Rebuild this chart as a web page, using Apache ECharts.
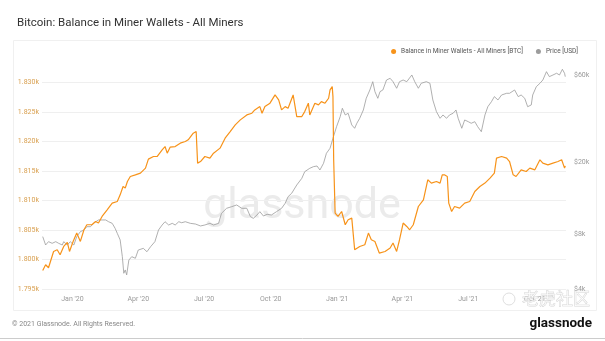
<!DOCTYPE html>
<html>
<head>
<meta charset="utf-8">
<script src="https://cdn.jsdelivr.net/npm/echarts@6/dist/echarts.min.js"></script>
<style>
  html, body { margin: 0; padding: 0; background: #fff; }
  #chart { width: 605px; height: 341px; }
</style>
</head>
<body>
<div id="chart"></div>
<script>
// Miner wallet balance (thousand BTC)
const balanceDates = [
  '2019-11-21','2019-11-25','2019-11-29','2019-12-06','2019-12-11','2019-12-15','2019-12-20','2019-12-25','2019-12-28',
  '2020-01-02','2020-01-07','2020-01-12','2020-01-17','2020-01-21','2020-01-28','2020-02-02','2020-02-06','2020-02-11',
  '2020-02-18','2020-02-25','2020-03-03','2020-03-07','2020-03-11','2020-03-14','2020-03-17','2020-03-21','2020-03-28',
  '2020-04-04','2020-04-11','2020-04-15','2020-04-22','2020-04-27','2020-05-04','2020-05-08','2020-05-11','2020-05-15',
  '2020-05-22','2020-05-29','2020-06-05','2020-06-09','2020-06-16','2020-06-20','2020-06-22','2020-06-26','2020-07-02',
  '2020-07-09','2020-07-14','2020-07-23','2020-07-30','2020-08-06','2020-08-13','2020-08-20','2020-08-29','2020-09-05',
  '2020-09-09','2020-09-16','2020-09-19','2020-09-23','2020-09-30','2020-10-07','2020-10-12','2020-10-16','2020-10-21',
  '2020-10-25','2020-11-01','2020-11-06','2020-11-13','2020-11-17','2020-11-22','2020-11-24','2020-12-01','2020-12-06',
  '2020-12-10','2020-12-15','2020-12-20','2020-12-22','2020-12-25','2020-12-26','2020-12-27','2020-12-29','2021-01-02',
  '2021-01-07','2021-01-12','2021-01-16','2021-01-21','2021-01-25','2021-02-01','2021-02-08','2021-02-13','2021-02-17',
  '2021-02-22','2021-02-28','2021-03-08','2021-03-15','2021-03-19','2021-03-24','2021-03-28','2021-04-02','2021-04-07',
  '2021-04-11','2021-04-16','2021-04-23','2021-04-30','2021-05-06','2021-05-11','2021-05-18','2021-05-23','2021-05-26',
  '2021-05-29','2021-06-02','2021-06-04','2021-06-08','2021-06-12','2021-06-19','2021-06-26','2021-07-03','2021-07-10',
  '2021-07-17','2021-07-24','2021-07-31','2021-08-06','2021-08-09','2021-08-16','2021-08-23','2021-08-27','2021-09-01',
  '2021-09-05','2021-09-12','2021-09-19','2021-09-24','2021-10-01','2021-10-08','2021-10-12','2021-10-19','2021-10-26',
  '2021-11-02','2021-11-07','2021-11-11','2021-11-12'
];
const balanceValues = [
  1798.15,1799.12,1798.61,1801.37,1801.66,1800.81,1802.22,1802.90,1801.37,
  1803.07,1804.49,1803.07,1805.05,1805.90,1805.90,1806.46,1806.19,1807.31,
  1808.44,1809.58,1809.85,1810.98,1812.39,1812.12,1813.24,1814.09,1814.37,
  1814.66,1815.51,1817.04,1817.48,1817.48,1818.61,1819.17,1818.05,1819.07,
  1819.17,1819.75,1820.02,1820.31,1821.44,1821.71,1816.36,1816.63,1817.48,
  1817.20,1818.05,1818.90,1820.59,1821.71,1822.85,1823.70,1824.54,1824.83,
  1825.39,1825.95,1824.83,1825.95,1826.53,1827.93,1827.09,1825.39,1825.95,
  1825.68,1827.93,1824.26,1824.26,1825.10,1826.53,1824.54,1826.53,1826.24,
  1826.80,1826.53,1827.37,1828.78,1829.34,1827.65,1816.92,1807.88,1807.31,
  1808.15,1805.90,1806.75,1807.03,1801.66,1802.22,1802.51,1804.49,1803.36,
  1803.07,1801.10,1801.37,1801.95,1802.80,1801.37,1803.36,1806.19,1805.61,
  1805.05,1805.90,1809.00,1810.14,1813.53,1812.97,1813.24,1812.97,1814.37,
  1814.37,1814.09,1809.58,1808.15,1809.00,1808.73,1809.58,1809.85,1811.54,
  1812.39,1812.97,1813.81,1814.66,1817.20,1817.48,1817.20,1816.63,1814.37,
  1814.09,1815.22,1814.93,1815.51,1815.22,1816.92,1816.36,1816.07,1816.36,
  1816.63,1816.92,1815.51,1815.90
];

// BTC price (USD)
const priceDates = [
  '2019-11-21','2019-11-25','2019-11-29','2019-12-04','2019-12-09','2019-12-13','2019-12-18','2019-12-20','2019-12-25',
  '2019-12-29','2020-01-03','2020-01-07','2020-01-12','2020-01-17','2020-01-21','2020-01-26','2020-01-30','2020-02-06',
  '2020-02-11','2020-02-16','2020-02-20','2020-02-25','2020-02-29','2020-03-03','2020-03-07','2020-03-10','2020-03-12',
  '2020-03-14','2020-03-16','2020-03-19','2020-03-23','2020-03-28','2020-04-01','2020-04-08','2020-04-13','2020-04-18',
  '2020-04-24','2020-04-29','2020-05-04','2020-05-08','2020-05-13','2020-05-18','2020-05-22','2020-05-27','2020-05-31',
  '2020-06-05','2020-06-12','2020-06-19','2020-06-26','2020-07-02','2020-07-09','2020-07-14','2020-07-21','2020-07-25',
  '2020-08-01','2020-08-08','2020-08-15','2020-08-22','2020-08-29','2020-09-03','2020-09-07','2020-09-12','2020-09-16',
  '2020-09-21','2020-09-26','2020-10-02','2020-10-09','2020-10-16','2020-10-21','2020-10-25','2020-10-30','2020-11-06',
  '2020-11-13','2020-11-17','2020-11-24','2020-11-29','2020-12-04','2020-12-08','2020-12-13','2020-12-17','2020-12-22',
  '2020-12-26','2020-12-31','2021-01-05','2021-01-08','2021-01-12','2021-01-16','2021-01-21','2021-01-25','2021-01-28',
  '2021-02-01','2021-02-06','2021-02-10','2021-02-15','2021-02-19','2021-02-22','2021-02-26','2021-03-01','2021-03-05',
  '2021-03-10','2021-03-15','2021-03-19','2021-03-24','2021-03-28','2021-04-02','2021-04-07','2021-04-14','2021-04-18',
  '2021-04-23','2021-04-27','2021-05-04','2021-05-09','2021-05-13','2021-05-18','2021-05-23','2021-05-27','2021-06-01',
  '2021-06-05','2021-06-10','2021-06-14','2021-06-17','2021-06-22','2021-06-26','2021-07-01','2021-07-05','2021-07-10',
  '2021-07-14','2021-07-19','2021-07-24','2021-07-28','2021-08-02','2021-08-06','2021-08-11','2021-08-16','2021-08-23',
  '2021-08-27','2021-09-03','2021-09-08','2021-09-12','2021-09-17','2021-09-21','2021-09-26','2021-09-28','2021-10-03',
  '2021-10-08','2021-10-12','2021-10-17','2021-10-21','2021-10-26','2021-10-31','2021-11-04','2021-11-08','2021-11-11',
  '2021-11-12'
];
const priceValues = [
  7760,6980,7280,7130,7280,7130,6980,7280,6980,
  7280,6980,7760,8260,8440,8800,8800,9180,9580,
  9580,9580,9370,9180,8620,8090,7440,6020,4880,
  5090,4780,5770,6020,5900,6550,6690,6410,6830,
  7280,8440,8990,9370,8990,9180,8990,9370,9250,
  9370,9180,9100,8880,8990,9180,8990,9180,10420,
  11100,11330,11580,11100,11100,9980,9780,10200,10640,
  10070,10290,10200,10640,11100,11830,12860,13430,14910,
  16230,17650,18420,18800,18960,18030,19620,22270,23730,
  26920,31180,35380,39350,36150,36940,31860,30550,32550,
  34670,38510,44640,49600,55090,48560,44640,48560,49600,
  56270,57500,55090,50690,55090,56270,55090,59960,55090,
  50690,53990,55090,53990,43720,37690,34670,36150,34670,
  36150,36940,38510,34670,30550,33940,33210,32550,33210,
  31180,29260,36150,40150,42770,45600,43720,46560,47570,
  47570,49600,45600,46560,44640,40150,41030,46560,51720,
  53990,56270,62520,58710,59960,61280,59960,64440,61280,
  58710
];

// Axis ticks
const quarterTicks = ['2020-01-01','2020-04-01','2020-07-01','2020-10-01','2021-01-01','2021-04-01','2021-07-01','2021-10-01'];
const priceTicks = [4000, 8000, 20000, 60000];
const MONTHS = ['Jan','Feb','Mar','Apr','May','Jun','Jul','Aug','Sep','Oct','Nov','Dec'];

const FONT = 'Roboto, "Noto Sans", sans-serif';
const ORANGE = '#f7931a';
const GREY = '#9c9c9c';
const ts = d => Date.parse(d + 'T00:00:00Z');

const chart = echarts.init(document.getElementById('chart'), null, { renderer: 'canvas' });

chart.setOption({
  animation: false,
  backgroundColor: '#fff',
  textStyle: { fontFamily: FONT },
  title: {
    text: 'Bitcoin: Balance in Miner Wallets - All Miners',
    left: 12, top: 12,
    textStyle: { fontSize: 11.5, fontWeight: 'normal', color: '#333', fontFamily: FONT }
  },
  legend: {
    right: 22, top: 43,
    icon: 'circle', itemWidth: 5, itemHeight: 5, itemGap: 13,
    textStyle: { fontSize: 6.5, color: '#555', fontFamily: FONT },
    data: ['Balance in Miner Wallets - All Miners [BTC]', 'Price [USD]']
  },
  grid: { left: 42, right: 39, top: 68, bottom: 52 },
  xAxis: {
    type: 'value',
    min: ts('2019-11-20'),
    max: ts('2021-11-13'),
    axisLine: { show: false },
    axisTick: { show: false },
    splitLine: { show: false },
    axisLabel: {
      customValues: quarterTicks.map(ts),
      formatter: v => { const d = new Date(v); return MONTHS[d.getUTCMonth()] + " '" + String(d.getUTCFullYear()).slice(2); },
      color: '#999', fontSize: 7, margin: 7, fontFamily: FONT
    }
  },
  yAxis: [
    {
      type: 'value', min: 1795, max: 1832.5, interval: 5,
      axisLine: { show: false }, axisTick: { show: false },
      splitLine: { lineStyle: { color: '#efefef', width: 1 }, showMaxLine: false },
      axisLabel: {
        formatter: v => (v % 5 === 0 ? (v / 1000).toFixed(3) + 'k' : ''),
        showMaxLabel: false,
        color: '#d9a050', fontSize: 7, margin: 3, fontFamily: FONT
      }
    },
    {
      type: 'log', logBase: 10, min: 4000, max: 65500, position: 'right',
      axisLine: { show: false }, axisTick: { show: false }, splitLine: { show: false },
      axisLabel: {
        customValues: priceTicks,
        formatter: v => '$' + Math.round(v / 1000) + 'k',
        color: '#999', fontSize: 7, margin: 8, fontFamily: FONT
      }
    }
  ],
  series: [
    {
      name: 'Balance in Miner Wallets - All Miners [BTC]',
      type: 'line', yAxisIndex: 0, showSymbol: false, z: 4,
      data: balanceDates.map((d, i) => [ts(d), balanceValues[i]]),
      lineStyle: { color: ORANGE, width: 1.2 },
      itemStyle: { color: ORANGE }
    },
    {
      name: 'Price [USD]',
      type: 'line', yAxisIndex: 1, showSymbol: false, z: 3,
      data: priceDates.map((d, i) => [ts(d), priceValues[i]]),
      lineStyle: { color: GREY, width: 0.8 },
      itemStyle: { color: GREY }
    }
  ],
  graphic: [
    { type: 'rect', z: -10, silent: true, shape: { x: 13.5, y: 40.5, width: 583, height: 270 },
      style: { fill: 'none', stroke: '#f0f0f0', lineWidth: 1 } },
    { type: 'text', z: -5, silent: true, x: 302, y: 186,
      style: { text: 'glassnode', fill: '#ebebeb', fontSize: 43, fontWeight: 'normal', fontFamily: FONT,
               align: 'center', verticalAlign: 'alphabetic' } },
    { type: 'text', z: 10, silent: true, x: 556, y: 299,
      style: { text: '老虎社区', fill: 'rgba(255,255,255,0.5)', stroke: '#cfcfcf', lineWidth: 0.6,
               fontSize: 17, fontFamily: '"Noto Sans CJK SC", sans-serif', align: 'center', verticalAlign: 'middle' } },
    { type: 'circle', z: 10, silent: true, shape: { cx: 509, cy: 299, r: 6 },
      style: { fill: 'none', stroke: '#d6d6d6', lineWidth: 0.8 } },
    { type: 'text', silent: true, x: 12, y: 324,
      style: { text: '© 2021 Glassnode. All Rights Reserved.', fill: '#888', fontSize: 7, fontFamily: FONT,
               verticalAlign: 'middle' } },
    { type: 'text', silent: true, x: 592, y: 324,
      style: { text: 'glassnode', fill: '#111', fontSize: 13.5, fontWeight: 'bold', fontFamily: FONT,
               align: 'right', verticalAlign: 'middle' } },
    { type: 'line', silent: true, shape: { x1: 0, y1: 338.5, x2: 605, y2: 338.5 },
      style: { stroke: '#cccccc', lineWidth: 1 } }
  ]
});
</script>
</body>
</html>
